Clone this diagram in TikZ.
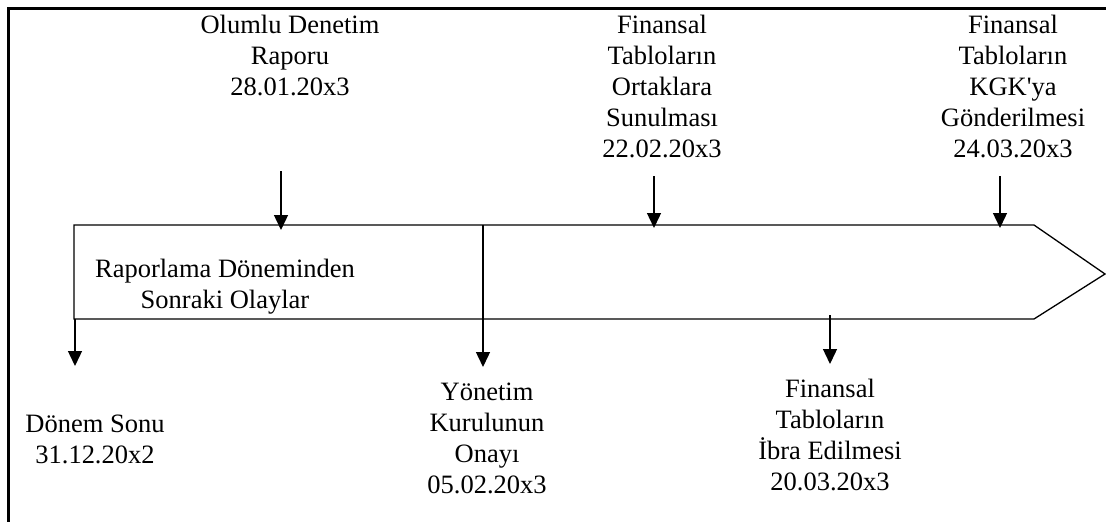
\documentclass[tikz,border=0pt]{standalone}
\usepackage{fontspec}
\setmainfont{Liberation Serif}
\usetikzlibrary{arrows.meta}

\begin{document}
\begin{tikzpicture}[x=1pt,y=-1pt,
    olay/.style={align=center,inner sep=0pt,anchor=base,font=\fontsize{26.5}{30.8}\selectfont},
    cizgi/.style={line width=1.3pt},
    ok/.style={line width=1.4pt,-{Triangle[length=15pt,width=14pt]}}]
			\useasboundingbox (0,0) rectangle (1106,522);
			
			%%%%% CERCEVE %%%%%
			\draw[line width=2.2pt] (1106,8.5) -- (8.5,8.5) -- (8.5,522);
			
			%%%%% ZAMAN OKU %%%%%
			\coordinate (solust) at (74,225);
			\coordinate (solalt) at (74,319);
			\coordinate (uc) at (1105,274);
			\draw[cizgi] (solust) -- (1034,225) -- (uc) -- (1034,319) -- (solalt) -- cycle;
			\node[olay] (raporlama) at (225,308) {Raporlama Döneminden\\Sonraki Olaylar};
			
			%%%%% UST OLAYLAR %%%%%
			\node[olay] (olumlu) at (290,95) {Olumlu Denetim\\Raporu\\28.01.20x3};
			\node[olay] (ortaklar) at (662,157) {Finansal\\Tabloların\\Ortaklara\\Sunulması\\22.02.20x3};
			\node[olay] (kgk) at (1013,157) {Finansal\\Tabloların\\KGK\textquotesingle ya\\Gönderilmesi\\24.03.20x3};
			
			\coordinate (olumluok) at (281,171);
			\coordinate (ortaklarok) at (654,176);
			\coordinate (kgkok) at (1000,176);
			\draw[ok] (olumluok) -- ([yshift=-5pt]olumluok |- solust);
			\draw[ok] (ortaklarok) -- ([yshift=-3pt]ortaklarok |- solust);
			\draw[ok] (kgkok) -- ([yshift=-3pt]kgkok |- solust);
			
			%%%%% ALT OLAYLAR %%%%%
			\node[olay] (donem) at (95,463) {Dönem Sonu\\31.12.20x2};
			\node[olay] (yonetim) at (487,493) {Yönetim\\Kurulunun\\Onayı\\05.02.20x3};
			\node[olay] (ibra) at (830,490) {Finansal\\Tabloların\\İbra Edilmesi\\20.03.20x3};
			
			\coordinate (donemok) at (75,319);
			\coordinate (yonetimok) at (483,225);
			\coordinate (ibraok) at (830,315);
			\draw[ok] (donemok) -- (75,366);
			\draw[ok] (yonetimok) -- (483,367);
			\draw[ok] (ibraok) -- (830,364);
			
		\end{tikzpicture}
\end{document}
